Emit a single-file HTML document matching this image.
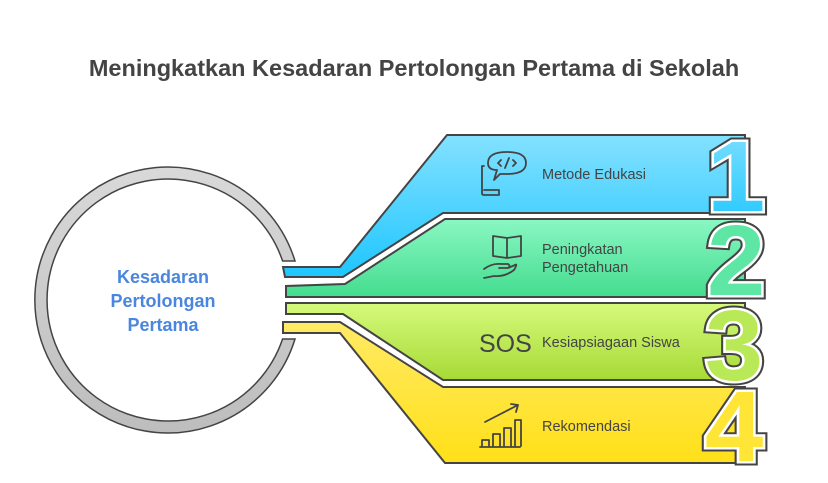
<!DOCTYPE html>
<html><head><meta charset="utf-8"><style>
html,body{margin:0;padding:0;background:#fff;}
svg{display:block;}
</style></head><body>
<svg width="828" height="483" viewBox="0 0 828 483" xmlns="http://www.w3.org/2000/svg">
<defs>
<linearGradient id="gb" x1="0" y1="0" x2="0" y2="1"><stop offset="0" stop-color="#84e1ff"/><stop offset="1" stop-color="#1ec6ff"/></linearGradient>
<linearGradient id="gg" x1="0" y1="0" x2="0" y2="1"><stop offset="0" stop-color="#8af7c3"/><stop offset="1" stop-color="#44dc8f"/></linearGradient>
<linearGradient id="gl" x1="0" y1="0" x2="0" y2="1"><stop offset="0" stop-color="#d6fa7c"/><stop offset="1" stop-color="#a6da36"/></linearGradient>
<linearGradient id="gy" x1="0" y1="0" x2="0" y2="1"><stop offset="0" stop-color="#ffea66"/><stop offset="1" stop-color="#ffe018"/></linearGradient>
<linearGradient id="gr" x1="0" y1="0" x2="0" y2="1"><stop offset="0" stop-color="#d9d9d9"/><stop offset="1" stop-color="#bdbdbd"/></linearGradient>
</defs>
<text x="414" y="76" text-anchor="middle" font-family="Liberation Sans, sans-serif" font-weight="bold" font-size="23.5" fill="#444">Meningkatkan Kesadaran Pertolongan Pertama di Sekolah</text>

<path d="M295,261 A133,133 0 1 0 295,339 L282.6,339 A121,121 0 1 1 282.6,261 Z" fill="url(#gr)" stroke="#444" stroke-width="1.5"/>
<g font-family="Liberation Sans, sans-serif" font-weight="bold" font-size="18" fill="#4a86e0" text-anchor="middle">
<text x="163" y="283">Kesadaran</text>
<text x="163" y="307">Pertolongan</text>
<text x="163" y="331">Pertama</text>
</g>

<g stroke="#444" stroke-width="2" stroke-linejoin="miter">
<path d="M447,135 L745,135 L745,213 L443,213 L343,277 L285,277 L283,267 L340,267 Z" fill="url(#gb)"/>
<path d="M445,219 L745,219 L745,297 L286,297 L286,286 L345,284 Z" fill="url(#gg)"/>
<path d="M286,303 L745,303 L745,380 L443,380 L343,314 L286,314 Z" fill="url(#gl)"/>
<path d="M283,322 L340,322 L443,387 L745,387 L745,463 L445,463 L340,333 L283,333 Z" fill="url(#gy)"/>
</g>

<g font-family="Liberation Sans, sans-serif" font-weight="bold" font-size="100" text-anchor="middle" stroke-linejoin="miter">
<g transform="translate(736,211) scale(1.05,1)">
<text stroke="#444" stroke-width="9" fill="#444">1</text><text stroke="#fff" stroke-width="5" fill="#4fd0ff">1</text><text fill="url(#gb)">1</text></g>
<g transform="translate(736,295) scale(1.05,1)">
<text stroke="#444" stroke-width="9" fill="#444">2</text><text stroke="#fff" stroke-width="5" fill="#5ee6a4">2</text><text fill="#5ee6a4">2</text></g>
<g transform="translate(734,380) scale(1.05,1)">
<text stroke="#444" stroke-width="9" fill="#444">3</text><text stroke="#fff" stroke-width="5" fill="#b9e956">3</text><text fill="#b9e956">3</text></g>
<g transform="translate(734,461) scale(1.05,1)">
<text stroke="#444" stroke-width="9" fill="#444">4</text><text stroke="#fff" stroke-width="5" fill="#ffe535">4</text><text fill="#ffe535">4</text></g>
</g>

<g font-family="Liberation Sans, sans-serif" font-size="14.5" fill="#444">
<text x="542" y="179">Metode Edukasi</text>
<text x="542" y="254">Peningkatan</text>
<text x="542" y="272">Pengetahuan</text>
<text x="542" y="347">Kesiapsiagaan Siswa</text>
<text x="542" y="431">Rekomendasi</text>
<text x="479" y="352" font-size="25">SOS</text>
</g>

<g fill="none" stroke="#444" stroke-width="1.8" stroke-linecap="round" stroke-linejoin="round">
<path d="M484,166 L482,166 L482,193 Q482,195 484,195 L499,195 L499,190 L484,190"/>
<path d="M497,170 Q488,170 488,163 Q488,152 507,152 Q526,152 526,163 Q526,174 507,174 L500,174 L494,180 Z"/>
<path d="M501,160 L498,163 L501,166 M513,160 L516,163 L513,166 M509,158 L505,168"/>
<path d="M493,236 L507,238 L521,236 L521,256 L507,258 L493,256 Z M507,238 L507,258"/>
<path d="M484,269 Q492,263 501,264 L508,264 Q511,266 508,268 L499,268 M508,268 L515,265 Q518,263 514,270 Q505,277 494,276 L484,278"/>
<path d="M485,422 L518,405 M511,404 L518,405 L516,412"/>
<path d="M480,447 L520,447 M482,446 L482,440 L489,440 L489,446 M493,446 L493,434 L500,434 L500,446 M504,446 L504,428 L511,428 L511,446 M515,446 L515,420 L521,420 L521,446"/>
</g>
</svg>
</body></html>
